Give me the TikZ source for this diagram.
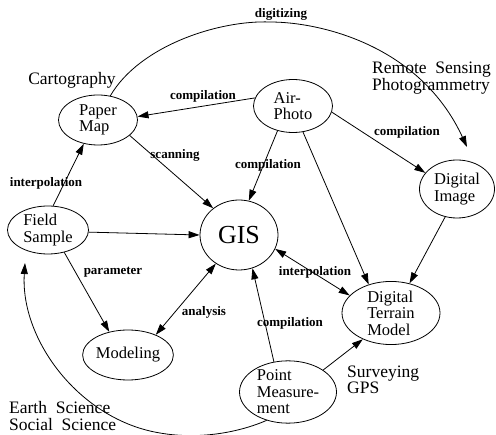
\documentclass[tikz,border=0pt]{standalone}
\usepackage{fontspec}
\setmainfont{Liberation Serif}
\usetikzlibrary{shapes.geometric,arrows.meta}
\begin{document}
\begin{tikzpicture}[x=1pt,y=-1pt,
  ell/.style={draw, ellipse, inner sep=0pt, align=left, line width=0.8pt,
    font=\fontsize{16.5}{16.5}\selectfont},
  lab/.style={inner sep=1pt, font=\fontsize{13}{13}\selectfont\bfseries},
  big/.style={inner sep=0pt, align=left, font=\fontsize{17.5}{16.5}\selectfont},
  arr/.style={-{Triangle[length=11pt,width=7pt]}, line width=0.8pt},
  darr/.style={{Triangle[length=11pt,width=7pt]}-{Triangle[length=11pt,width=7pt]}, line width=0.8pt}
]
\useasboundingbox (0,0) rectangle (496,435);

% nodes
\node[ell, minimum width=79pt, minimum height=50pt] (pm) at (98,120) {Paper\\Map};
\node[ell, minimum width=79pt, minimum height=53pt] (ap) at (293,106) {Air-\\Photo};
\node[ell, minimum width=78pt, minimum height=70pt, font=\fontsize{26}{26}\selectfont] (gis) at (239,235) {GIS};
\node[ell, minimum width=81pt, minimum height=48pt] (fs) at (48,230) {Field\\Sample};
\node[ell, minimum width=84pt, minimum height=50pt] (mod) at (128,355) {Modeling};
\node[ell, minimum width=75pt, minimum height=58pt] (di) at (457,189) {Digital\\Image};
\node[ell, minimum width=98pt, minimum height=57pt] (dtm) at (391,313) {Digital\\Terrain\\Model};
\node[ell, minimum width=97pt, minimum height=61pt] (pt) at (288,392) {Point\\Measure-\\ment};

% free texts
\node[big] (carto) at (72,80) {Cartography};
\node[big, anchor=west] (rs) at (372,78) {Remote\ \ Sensing\\Photogrammetry};
\node[big, anchor=west] (surv) at (347,380) {Surveying\\GPS};
\node[big, anchor=west] (earth) at (9,416) {Earth\ \ Science\\Social\ \ Science};

% connectors
\coordinate (ditip) at (467,147);
\coordinate (digtop) at (270,22);
\draw[arr] (pm.63) .. controls (140,45) and (220,20) .. (digtop)
  .. controls (320,22) and (420,45) .. (ditip);
\node[lab] (ldig) at (281,14) {digitizing};

\draw[arr] (ap.168) -- (pm.5);
\node[lab] (lc1) at (203,96) {compilation};
\draw[arr] (pm.-26) -- (gis.134);
\node[lab] (lscan) at (175,155) {scanning};
\draw[arr] (fs.78) -- (pm.-121);
\node[lab] (linterp1) at (46,183) {interpolation};
\draw[arr] (ap.238) -- (gis.74);
\node[lab] (lc2) at (268,165) {compilation};
\draw[arr] (ap.291) -- (dtm.128);
\draw[arr] (ap.351) -- (di.153);
\node[lab] (lc3) at (407,132) {compilation};
\draw[arr] (di.247) -- (dtm.58);
\draw[arr] (fs.-3) -- (gis.180);
\draw[arr] (fs.-54) -- (mod.129);
\node[lab] (lpar) at (113,272) {parameter};
\draw[darr] (gis.231) -- (mod.36);
\node[lab] (lana) at (204,312) {analysis};
\draw[darr] (gis.-21) -- (dtm.157);
\node[lab] (linterp2) at (315,272) {interpolation};
\draw[arr] (pt.115) -- (gis.292);
\node[lab] (lc4) at (290,323) {compilation};
\draw[arr] (pt.32) -- (dtm.223);

\coordinate (fstip) at (25,263);
\coordinate (bot) at (160,433);
\draw[arr] (pt.233) .. controls (240,432) and (200,440) .. (bot)
  .. controls (80,420) and (20,340) .. (fstip);
\end{tikzpicture}
\end{document}
